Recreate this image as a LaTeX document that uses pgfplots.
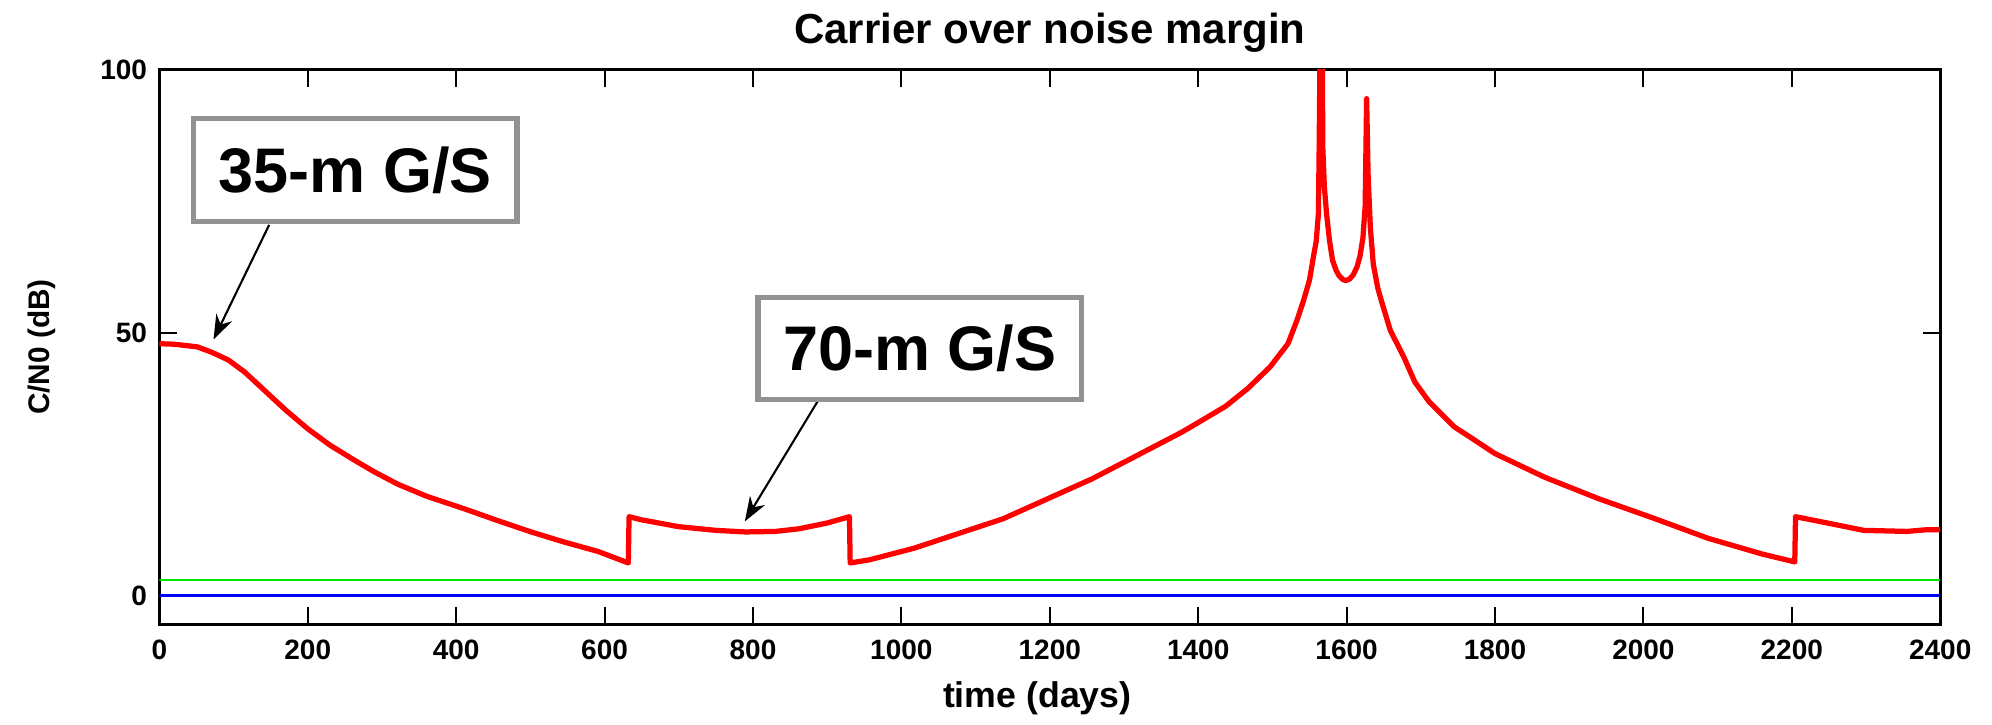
\documentclass[border=0pt]{standalone}
\usepackage{fontspec}
\setmainfont{Liberation Sans}
\usepackage{pgfplots}
\pgfplotsset{compat=1.18}
\usetikzlibrary{arrows.meta}

\definecolor{boxgray}{RGB}{146,146,146}

\begin{document}
\begin{tikzpicture}
\begin{axis}[
  scale only axis, width=17.88cm, height=5.57cm,
  xmin=0, xmax=2400, ymin=-5.5, ymax=100,
  xtick={0,200,...,2400}, ytick={0,50,100},
  tick align=inside, major tick length=5pt,
  axis line style={line width=0.8pt},
  every tick/.style={black, line width=0.6pt},
  /pgf/number format/assume math mode=true,
  /pgf/number format/set thousands separator={},
  tick label style={font=\fontsize{8}{9}\selectfont\bfseries},
  xticklabel style={yshift=-1pt},
  every axis title shift=0pt,
  title={Carrier over noise margin},
  title style={font=\fontsize{12}{14}\selectfont\bfseries, at={(axis description cs:0.5,1.066)}, anchor=center},
  xlabel={time (days)},
  xlabel style={font=\fontsize{10.2}{12}\selectfont\bfseries, at={(axis description cs:0.493,-0.133)}, anchor=center},
  ylabel={C/N0 (dB)},
  ylabel style={font=\fontsize{8.5}{10}\selectfont\bfseries, at={(axis description cs:-0.066,0.5)}, anchor=center, rotate=0},
]
\coordinate (sw) at (rel axis cs:0,0);
\coordinate (ne) at (rel axis cs:1,1);

% thresholds
\addplot[green!90!black, line width=0.7pt] coordinates {(0,3) (2400,3)};
\addplot[blue, line width=0.7pt] coordinates {(0,0) (2400,0)};

% C/N0 margin
\addplot[red, line width=1.5pt, line join=round] coordinates {
 (0,47.9) (20,47.8) (51,47.3) (70,46.3) (93,44.8) (115,42.5) (141,39.1)
 (170,35.3) (201,31.6) (230,28.6) (261,25.9) (290,23.5) (321,21.2)
 (360,18.9) (411,16.5) (455,14.3) (501,12.1) (545,10.2) (591,8.4)
 (632,6.2) (633,15.0) (650,14.4) (700,13.1) (750,12.4) (790,12.1)
 (830,12.2) (862,12.7) (900,13.8) (930,15.0) (931,6.2) (957,6.8)
 (1017,9.0) (1077,11.8) (1137,14.6) (1197,18.4) (1257,22.2) (1317,26.6)
 (1377,31.0) (1400,32.9) (1437,36.0) (1467,39.4) (1497,43.5) (1521,47.9)
 (1533,52.3) (1542,56.1) (1550,60.0) (1556,65.0) (1559,67.3) (1562,72.6)
 (1563,84.7) (1564.5,108) (1567,108) (1568,85) (1570,77.8) (1573,72.6)
 (1577,67.5) (1581,63.8) (1586,61.8) (1590,60.8) (1595,60.1) (1599,59.9)
 (1604,60.2) (1609,61.0) (1614,62.5) (1618,64.5) (1622,68.0) (1625,74.0)
 (1627,94.5) (1629,80.0) (1632,70.0) (1636,63.0) (1642,58.5) (1647,56.0)
 (1659,50.4) (1677,45.4) (1692,40.6) (1711,36.9) (1745,32.1) (1770,29.8)
 (1800,27.0) (1867,22.5) (1940,18.4) (2014,14.7) (2087,10.9) (2160,7.9)
 (2204,6.4) (2205,15.0) (2248,13.8) (2297,12.4) (2355,12.2) (2380,12.5)
 (2400,12.5)
};

% annotations
\draw[line width=0.6pt, -{Stealth[length=7pt,width=5pt]}] (axis cs:148,70.5) -- (axis cs:73,48.7);
\draw[line width=0.6pt, -{Stealth[length=7pt,width=5pt]}] (axis cs:890,37.6) -- (axis cs:789,14.1);
\node[draw=boxgray, line width=1.5pt, fill=white, minimum width=3.25cm, minimum height=1.03cm, inner sep=0pt,
      font=\fontsize{18}{20}\selectfont\bfseries] at (axis cs:264,80.9) {35-m G/S};
\node[draw=boxgray, line width=1.5pt, fill=white, minimum width=3.25cm, minimum height=1.03cm, inner sep=0pt,
      font=\fontsize{18}{20}\selectfont\bfseries] at (axis cs:1025,47.0) {70-m G/S};
\end{axis}
\pgfresetboundingbox
\path ([shift={(-1.6cm,-1.0cm)}]sw) rectangle ([shift={(0.52cm,0.7cm)}]ne);
\end{tikzpicture}
\end{document}
